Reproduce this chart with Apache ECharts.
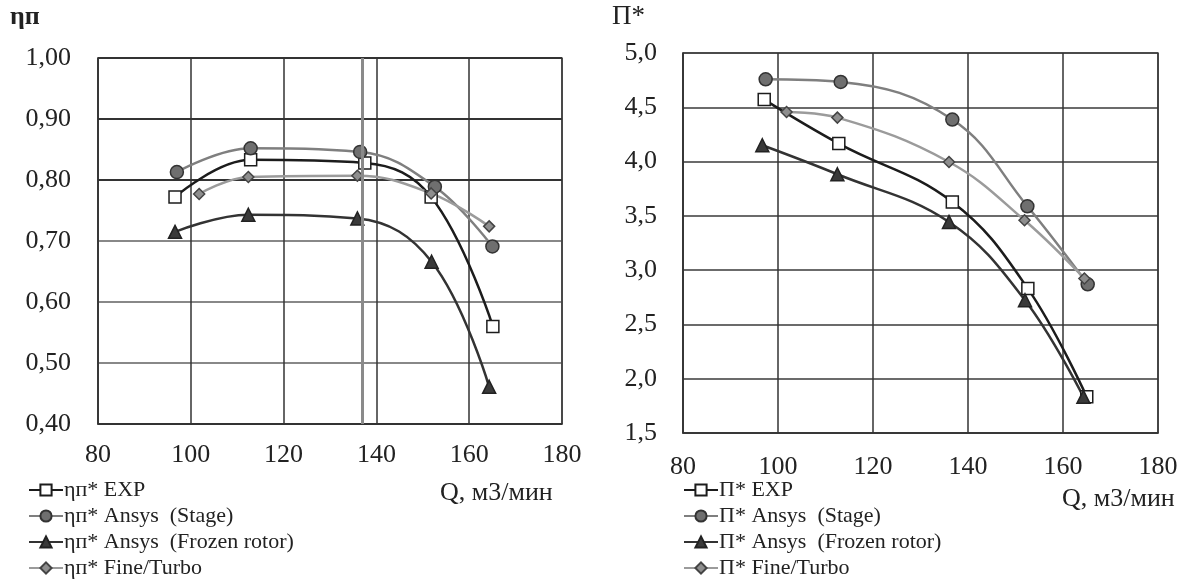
<!DOCTYPE html>
<html>
<head>
<meta charset="utf-8">
<script src="https://cdn.jsdelivr.net/npm/echarts@6/dist/echarts.min.js"></script>
<style>
  html, body { margin: 0; padding: 0; background: #fff; }
  #main { width: 1204px; height: 581px; }
</style>
</head>
<body>
<div id="main"></div>
<script>
// КПД (левый график)
var effQ_exp = [96.6, 112.9, 137.5, 151.8, 165.1];
var eff_exp = [0.772, 0.833, 0.828, 0.772, 0.560];
var effQ_stage = [97.0, 112.9, 136.5, 152.6, 165.0];
var eff_stage = [0.813, 0.852, 0.846, 0.789, 0.691];
var effQ_frozen = [96.6, 112.4, 135.9, 151.9, 164.3];
var eff_frozen = [0.715, 0.743, 0.737, 0.666, 0.461];
var effQ_fine = [101.8, 112.4, 135.9, 151.8, 164.3];
var eff_fine = [0.777, 0.805, 0.807, 0.778, 0.724];

// степень повышения давления (правый график)
var prQ_exp = [97.1, 112.8, 136.7, 152.6, 165.0];
var pr_exp = [4.571, 4.166, 3.628, 2.830, 1.833];
var prQ_stage = [97.4, 113.2, 136.7, 152.5, 165.2];
var pr_stage = [4.758, 4.733, 4.387, 3.588, 2.870];
var prQ_frozen = [96.7, 112.5, 136.0, 152.0, 164.3];
var pr_frozen = [4.150, 3.883, 3.444, 2.723, 1.833];
var prQ_fine = [101.8, 112.5, 136.0, 151.9, 164.5];
var pr_fine = [4.457, 4.405, 3.996, 3.459, 2.923];

var effNames = ['ηп* EXP', 'ηп* Ansys  (Stage)', 'ηп* Ansys  (Frozen rotor)', 'ηп* Fine/Turbo'];
var prNames = ['П* EXP', 'П* Ansys  (Stage)', 'П* Ansys  (Frozen rotor)', 'П* Fine/Turbo'];

var serif = 'Liberation Serif';

function zip(xs, ys) {
  return xs.map(function (x, i) { return [x, ys[i]]; });
}

// стили четырёх кривых: EXP, Stage, Frozen rotor, Fine/Turbo
var looks = [
  { symbol: 'rect', size: 12, line: '#1c1c1c', fill: '#ffffff', border: '#1c1c1c' },
  { symbol: 'circle', size: 13, line: '#7f7f7f', fill: '#6f6f6f', border: '#333333' },
  { symbol: 'triangle', size: 13, line: '#333333', fill: '#3a3a3a', border: '#222222' },
  { symbol: 'diamond', size: 11, line: '#9b9b9b', fill: '#8e8e8e', border: '#444444' }
];

function makeSeries(name, data, look, idx) {
  return {
    name: name,
    type: 'line',
    xAxisIndex: idx,
    yAxisIndex: idx,
    data: data,
    smooth: 0.4,
    symbol: look.symbol,
    symbolSize: look.size,
    lineStyle: { color: look.line, width: 2.5 },
    itemStyle: { color: look.fill, borderColor: look.border, borderWidth: 1.5 },
    z: 3
  };
}

var effData = [zip(effQ_exp, eff_exp), zip(effQ_stage, eff_stage), zip(effQ_frozen, eff_frozen), zip(effQ_fine, eff_fine)];
var prData = [zip(prQ_exp, pr_exp), zip(prQ_stage, pr_stage), zip(prQ_frozen, pr_frozen), zip(prQ_fine, pr_fine)];

var series = [];
effData.forEach(function (d, i) { series.push(makeSeries(effNames[i], d, looks[i], 0)); });
prData.forEach(function (d, i) { series.push(makeSeries(prNames[i], d, looks[i], 1)); });

// лишняя вертикальная линия на левом графике
series[0].markLine = {
  silent: true,
  symbol: 'none',
  label: { show: false },
  lineStyle: { color: '#8a8a8a', width: 3, type: 'solid' },
  data: [{ xAxis: 137 }]
};

function xAxisFor(idx, margin) {
  return {
    type: 'value', gridIndex: idx, min: 80, max: 180, interval: 20,
    axisLine: { show: true, lineStyle: { color: '#333', width: 1.5 } },
    axisTick: { show: false },
    axisLabel: { color: '#222', fontFamily: serif, fontSize: 26, margin: margin },
    splitLine: { show: true, lineStyle: { color: '#333', width: 1.5 } }
  };
}

var legendBase = {
  type: 'plain',
  orient: 'vertical',
  padding: 0,
  itemWidth: 34,
  itemHeight: 14,
  itemGap: 4,
  textStyle: { color: '#222', fontFamily: serif, fontSize: 22, padding: [0, 0, 0, -4] }
};

var chart = echarts.init(document.getElementById('main'));
chart.setOption({
  animation: false,
  backgroundColor: '#fff',
  grid: [
    { left: 98, top: 58, width: 464, height: 366, show: true, borderColor: '#666', borderWidth: 1.5 },
    { left: 683, top: 53, width: 475, height: 380, show: true, borderColor: '#555', borderWidth: 1.5 }
  ],
  xAxis: [xAxisFor(0, 18), xAxisFor(1, 21)],
  yAxis: [
    {
      type: 'value', gridIndex: 0, min: 0.4, max: 1.0, interval: 0.1,
      axisLine: { show: true, lineStyle: { color: '#333', width: 1.5 } },
      axisTick: { show: false },
      axisLabel: {
        color: '#222', fontFamily: serif, fontSize: 26, margin: 27,
        formatter: function (v) { return v.toFixed(2).replace('.', ','); }
      },
      splitLine: { show: true, lineStyle: { color: ['#333', '#888', '#888', '#888', '#333', '#333', '#333'], width: 1.8 } }
    },
    {
      type: 'value', gridIndex: 1, min: 1.5, max: 5.0, interval: 0.5,
      axisLine: { show: true, lineStyle: { color: '#333', width: 1.5 } },
      axisTick: { show: false },
      axisLabel: {
        color: '#222', fontFamily: serif, fontSize: 26, margin: 26,
        formatter: function (v) { return v.toFixed(1).replace('.', ','); }
      },
      splitLine: { show: true, lineStyle: { color: '#3a3a3a', width: 1.5 } }
    }
  ],
  legend: [
    Object.assign({ left: 28, top: 479, data: effNames }, legendBase),
    Object.assign({ left: 683, top: 479, data: prNames }, legendBase)
  ],
  graphic: [
    { type: 'text', left: 10, top: 4, style: { text: 'ηп', font: 'bold 26px "Liberation Serif"', fill: '#222' } },
    { type: 'text', left: 612, top: 3, style: { text: 'П*', font: '27px "Liberation Serif"', fill: '#222' } },
    { type: 'text', left: 440, top: 480, style: { text: 'Q, м3/мин', font: '26px "Liberation Serif"', fill: '#222' } },
    { type: 'text', left: 1062, top: 486, style: { text: 'Q, м3/мин', font: '26px "Liberation Serif"', fill: '#222' } }
  ],
  series: series
});
</script>
</body>
</html>
